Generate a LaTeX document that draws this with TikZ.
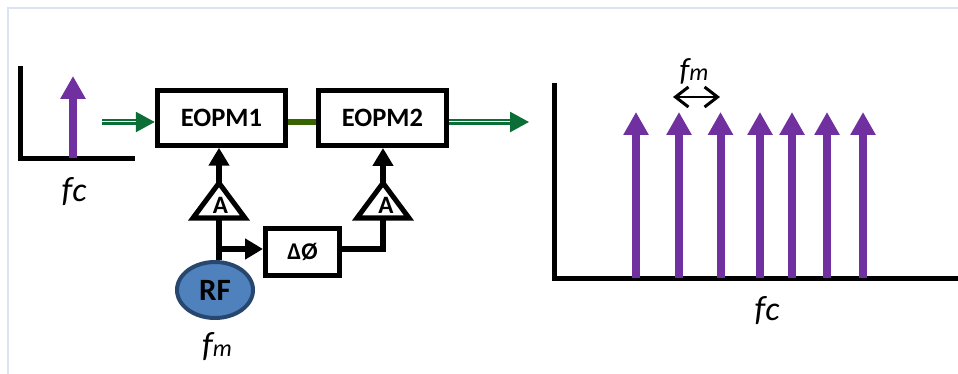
\documentclass[tikz,border=0pt]{standalone}
\usepackage{fontspec}
\setmainfont{Carlito}
\usetikzlibrary{arrows.meta,shapes.geometric}
\definecolor{framecol}{HTML}{DAE5F3}
\definecolor{purp}{HTML}{7030A0}
\definecolor{grn}{HTML}{0B6E36}
\definecolor{dgrn}{HTML}{376300}
\definecolor{rffill}{HTML}{4F81BD}
\definecolor{rfline}{HTML}{27476E}
\tikzset{
  x=1pt,y=-1pt,
  axisline/.style={line width=5pt,black},
  boxnode/.style={draw=black,line width=5pt,fill=white,inner sep=0pt,font=\fontsize{26.5}{27}\selectfont\bfseries},
  ampnode/.style={draw=black,line width=5pt,fill=white,isosceles triangle,isosceles triangle stretches,shape border rotate=90,minimum width=52pt,minimum height=35pt,inner sep=0pt,outer sep=0pt,anchor=apex},
  amplabel/.style={font=\fontsize{25}{25}\selectfont\bfseries,inner sep=0pt},
  sigline/.style={line width=6pt,black},
  sigarrow/.style={line width=6pt,black,-{Triangle[width=20pt,length=18pt]}},
  spike/.style={line width=8pt,purp,-{Triangle[width=24pt,length=23pt]}},
  opticarrow/.style={draw=grn,double=white,double distance=1pt,line width=2.6pt,-{Triangle[width=20pt,length=19pt,fill=grn,color=grn]}},
  freq/.style={font=\fontsize{35}{35}\selectfont\itshape,inner sep=0pt},
  freqtop/.style={font=\fontsize{32}{32}\selectfont\itshape,inner sep=0pt},
  barb/.style={Straight Barb[width=20pt,length=13pt,line width=3pt]},
}
\newcommand{\smallc}{{\fontsize{34}{34}\selectfont c}}
\newcommand{\smallm}{{\fontsize{24}{24}\selectfont m}}
\begin{document}
\begin{tikzpicture}
\useasboundingbox (0,0) rectangle (958,374);
% frame
\draw[framecol,line width=1.5pt] (8,374) -- (8,8) -- (958,8);
% left spectrum
\coordinate (la) at (20,66);
\coordinate (lo) at (20,158.5);
\coordinate (lx) at (135,158.5);
\draw[axisline] (la) -- (lo) -- (lx);
\coordinate (s0b) at (73,158);
\coordinate (s0t) at (73,76);
\draw[spike] (s0b) -- (s0t);
\node[freq] (fcl) at (74,192) {f\smallc};
% boxes
\node[boxnode,minimum width=128.5pt,minimum height=54.5pt] (eopm1) at (221.5,118) {\raisebox{-1pt}{EOPM1}};
\node[boxnode,minimum width=128pt,minimum height=55pt] (eopm2) at (382.5,118) {\raisebox{-1pt}{EOPM2}};
\node[boxnode,minimum width=74pt,minimum height=47pt,font=\fontsize{24}{24}\selectfont\bfseries] (ps) at (302.5,252) {\raisebox{-3pt}{ΔØ}};
\node[ampnode] (amp1) at (219,183) {};
\node[ampnode] (amp2) at (383,183) {};
\node[amplabel] (a1) at (220.5,205) {A};
\node[amplabel] (a2) at (386,205) {A};
\node[ellipse,draw=rfline,fill=rffill,line width=4pt,minimum width=76pt,minimum height=56pt,inner sep=0pt,font=\fontsize{31}{31}\selectfont\bfseries] (rf) at (215,290) {\raisebox{-2pt}{RF}};
\node[freq] (fmrf) at (217,347) {f\smallm};
% optical
\coordinate (in) at (102,122);
\coordinate (out) at (529,122);
\draw[opticarrow] (in) -- (eopm1.west |- in);
\draw[opticarrow] (eopm2.east |- out) -- (out);
\draw[dgrn,line width=6pt] (eopm1.east |- in) -- (eopm2.west |- in);
% rf
\coordinate (j) at (219,249);
\draw[sigline] (j |- rf.north) -- (amp1.lower side);
\draw[sigarrow] (amp1.apex) -- (eopm1.south -| amp1.apex);
\draw[sigarrow] (j) -- (ps.west |- j);
\coordinate (k) at (383,249);
\draw[sigline] (ps.east |- k) -- (k) -- (amp2.lower side);
\draw[sigarrow] (amp2.apex) -- (eopm2.south -| amp2.apex);
% right spectrum
\coordinate (ra) at (554.5,83);
\coordinate (ro) at (554.5,278);
\coordinate (rx) at (958,278);
\draw[axisline] (ra) -- (ro) -- (rx);
\foreach \n/\xx in {1/636,2/679,3/720.5,4/760,5/792,6/827,7/863}{
  \coordinate (b\n) at (\xx,278);
  \coordinate (t\n) at (\xx,112);
  \draw[spike] (b\n) -- (t\n);
}
\coordinate (ml) at (673,97);
\coordinate (mr) at (720,97);
\draw[black,line width=2.5pt,{Straight Barb[width=20pt,length=13pt,line width=3pt]}-{Straight Barb[width=20pt,length=13pt,line width=3pt]}] (ml) -- (mr);
\node[freqtop] (fmtop) at (694,71) {f\smallm};
\node[freq] (fcr) at (767,311) {f\smallc};
\end{tikzpicture}
\end{document}
